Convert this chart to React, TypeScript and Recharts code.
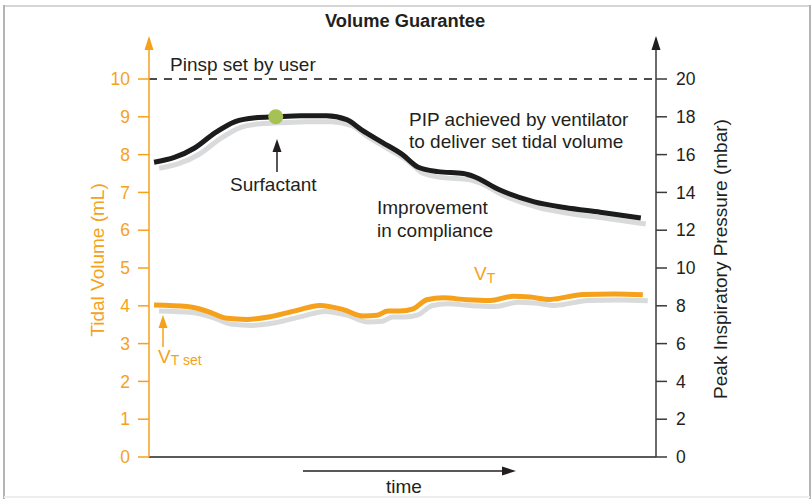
import React from "react";
import { LineChart, Line, XAxis, YAxis, ReferenceLine, ReferenceDot } from "recharts";

const pipTime = [1, 5, 9, 13, 17, 21, 25, 30, 35, 39, 42, 46, 50, 53, 57, 62, 64, 69, 76, 82, 89, 97];
const pipValues = [15.6, 15.85, 16.35, 17.15, 17.75, 17.95, 18.0, 18.05, 18.05, 17.85, 17.3, 16.65, 16.0, 15.35, 15.1, 15.0, 14.85, 14.15, 13.5, 13.2, 12.95, 12.65];

const vtTime = [1, 7.5, 11.4, 15.4, 19.3, 23.9, 29.2, 33.7, 38.3, 42.2, 45, 47.1, 49.5, 52.1, 54.8, 58, 62.7, 67.3, 71.8, 75.1, 79.1, 85.6, 91.9, 97.4];
const vtValues = [4.02, 3.98, 3.86, 3.67, 3.64, 3.71, 3.88, 4.01, 3.9, 3.73, 3.75, 3.86, 3.86, 3.92, 4.16, 4.21, 4.16, 4.14, 4.25, 4.23, 4.17, 4.3, 4.31, 4.29];

const leftTicks = [0, 1, 2, 3, 4, 5, 6, 7, 8, 9, 10];
const rightTicks = [0, 2, 4, 6, 8, 10, 12, 14, 16, 18, 20];

const pinspSet = 10;
const surfactantTime = 25;
const surfactantPip = 18;

const pipData = pipTime.map((t, i) => ({ t, pip: pipValues[i] }));
const vtData = vtTime.map((t, i) => ({ t, vt: vtValues[i] }));

const ORANGE = "#f6a11c";
const DARK = "#231f20";
const SHADOW = "#d9dadb";
const FONT = "'Liberation Sans', Arial, Helvetica, sans-serif";
const FS = 19;

export default function App() {
  return (
    <div style={{ position: "relative", width: 811, height: 499, background: "#fff", fontFamily: FONT }}>
      <style>{`body{margin:0;} .shadow-line{transform:translate(5px,6px);}`}</style>
      <LineChart width={811} height={499} margin={{ top: 38, right: 0, bottom: 0, left: 0 }}>
        <XAxis
          xAxisId="x"
          type="number"
          dataKey="t"
          domain={[0, 100]}
          height={42}
          tick={false}
          tickLine={false}
          axisLine={{ stroke: "#5a5a5a", strokeWidth: 2 }}
        />
        <YAxis
          yAxisId="left"
          orientation="left"
          width={149}
          domain={[0, 11.085]}
          ticks={leftTicks}
          allowDataOverflow
          tickSize={11}
          tickMargin={8}
          axisLine={{ stroke: ORANGE, strokeWidth: 1.5 }}
          tickLine={{ stroke: ORANGE, strokeWidth: 1.5 }}
          tick={{ fill: ORANGE, fontSize: 17.5, fontFamily: FONT }}
        />
        <YAxis
          yAxisId="right"
          orientation="right"
          width={155}
          domain={[0, 22.17]}
          ticks={rightTicks}
          allowDataOverflow
          tickSize={11}
          tickMargin={9}
          axisLine={{ stroke: "#3a3a3a", strokeWidth: 1.5 }}
          tickLine={{ stroke: "#3a3a3a", strokeWidth: 1.5 }}
          tick={{ fill: DARK, fontSize: 17.5, fontFamily: FONT }}
        />
        <ReferenceLine
          xAxisId="x"
          yAxisId="left"
          y={pinspSet}
          stroke="#111"
          strokeWidth={1.5}
          strokeDasharray="8 7"
        />
        <Line
          xAxisId="x"
          yAxisId="right"
          data={pipData}
          dataKey="pip"
          type="monotone"
          stroke={SHADOW}
          strokeWidth={5}
          dot={false}
          activeDot={false}
          className="shadow-line"
          isAnimationActive={false}
        />
        <Line
          xAxisId="x"
          yAxisId="left"
          data={vtData}
          dataKey="vt"
          type="monotone"
          stroke={SHADOW}
          strokeWidth={5}
          dot={false}
          activeDot={false}
          className="shadow-line"
          isAnimationActive={false}
        />
        <Line
          xAxisId="x"
          yAxisId="right"
          data={pipData}
          dataKey="pip"
          type="monotone"
          stroke="#1c1c1c"
          strokeWidth={5}
          dot={false}
          activeDot={false}
          isAnimationActive={false}
        />
        <Line
          xAxisId="x"
          yAxisId="left"
          data={vtData}
          dataKey="vt"
          type="monotone"
          stroke={ORANGE}
          strokeWidth={5}
          dot={false}
          activeDot={false}
          isAnimationActive={false}
        />
        <ReferenceDot
          xAxisId="x"
          yAxisId="right"
          x={surfactantTime}
          y={surfactantPip}
          r={7.5}
          fill="#a6c255"
          stroke="none"
        />
      </LineChart>
      <svg
        width={811}
        height={499}
        style={{ position: "absolute", left: 0, top: 0, pointerEvents: "none" }}
        fontFamily={FONT}
      >
        {/* frame */}
        <line x1={4} y1={6} x2={810} y2={6} stroke="#d6d6d6" strokeWidth={2} />
        <line x1={4} y1={5} x2={4} y2={499} stroke="#b4b4b4" strokeWidth={2} />
        <line x1={810} y1={5} x2={810} y2={499} stroke="#b4b4b4" strokeWidth={2} />
        <line x1={4} y1={497} x2={810} y2={497} stroke="#eeeeee" strokeWidth={2} />

        {/* title */}
        <text x={405} y={27} textAnchor="middle" fontSize={18.3} fontWeight="bold" fill={DARK}>
          Volume Guarantee
        </text>

        {/* axis arrowheads */}
        <polygon points="149,36 144.5,50 153.5,50" fill={ORANGE} />
        <polygon points="656,36 651.5,50 660.5,50" fill={DARK} />

        {/* axis titles */}
        <text
          x={0}
          y={0}
          transform="translate(104,260) rotate(-90)"
          textAnchor="middle"
          fontSize={FS}
          fill={ORANGE}
        >
          Tidal Volume (mL)
        </text>
        <text
          x={0}
          y={0}
          transform="translate(727,259) rotate(-90)"
          textAnchor="middle"
          fontSize={FS}
          fill={DARK}
        >
          Peak Inspiratory Pressure (mbar)
        </text>

        {/* annotations */}
        <text x={170} y={71} fontSize={FS} fill={DARK}>Pinsp set by user</text>
        <text x={409} y={126} fontSize={FS} fill={DARK}>PIP achieved by ventilator</text>
        <text x={409} y={148} fontSize={FS} fill={DARK}>to deliver set tidal volume</text>
        <text x={230} y={191} fontSize={FS} fill={DARK}>Surfactant</text>
        <text x={377} y={214} fontSize={FS} fill={DARK}>Improvement</text>
        <text x={377} y={237} fontSize={FS} fill={DARK}>in compliance</text>

        <line x1={277} y1={172} x2={277} y2={150} stroke={DARK} strokeWidth={1.5} />
        <polygon points="277,139 272.5,152 281.5,152" fill={DARK} />

        <text x={474} y={280} fontSize={FS} fill={ORANGE}>
          V<tspan fontSize={14} dy={3}>T</tspan>
        </text>
        <text x={158} y={363} fontSize={FS} fill={ORANGE}>
          V<tspan fontSize={14} dy={2}>T set</tspan>
        </text>
        <line x1={163} y1={347} x2={163} y2={326} stroke={ORANGE} strokeWidth={1.5} />
        <polygon points="163,315 158.5,328 167.5,328" fill={ORANGE} />

        {/* time arrow */}
        <line x1={303} y1={471} x2={503} y2={471} stroke={DARK} strokeWidth={1.5} />
        <polygon points="516,471 502,466.5 502,475.5" fill={DARK} />
        <text x={404} y={493} textAnchor="middle" fontSize={FS} fill={DARK}>time</text>
      </svg>
    </div>
  );
}
